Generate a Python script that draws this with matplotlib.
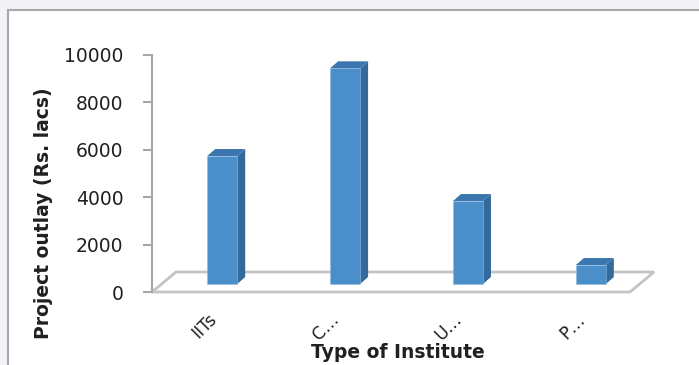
import matplotlib.pyplot as plt
from matplotlib.patches import Polygon, Rectangle
from matplotlib.transforms import offset_copy, IdentityTransform, ScaledTranslation

institutes = ["IITs", "C\u2026", "U\u2026", "P\u2026"]
outlay = [5400, 9100, 3500, 800]
yticks = [0, 2000, 4000, 6000, 8000, 10000]

W, H = 699, 365
fig = plt.figure(figsize=(W / 100, H / 100), dpi=100)
fig.patch.set_facecolor("#f3f3f7")

# white chart area with grey frame (behind the axes, runs off right/bottom)
fig.add_artist(Rectangle((8 / W, -0.2), 1.2, 1.2 - 10 / H, transform=fig.transFigure,
                         facecolor="white", edgecolor="#a8a8a8", lw=1.5, zorder=-5))

ax = fig.add_axes([152 / W, (H - 292) / H, (630 - 152) / W, (292 - 55) / H])
ax.patch.set_alpha(0)
ax.set_xlim(-0.49, 3.40)
ax.set_ylim(0, 10000)
for s in ["top", "right", "bottom"]:
    ax.spines[s].set_visible(False)
ax.spines["left"].set_color("#a6a6a6")
ax.spines["left"].set_linewidth(1.5)
ax.set_yticks(yticks)
ax.tick_params(axis="y", direction="out", length=6.5, width=1.5, color="#a6a6a6",
               labelsize=13.5, pad=14, labelcolor="#202020")
xs = list(range(len(institutes)))
ax.set_xticks(xs)
ax.set_xticklabels(institutes, rotation=45, ha="right", rotation_mode="anchor",
                   fontsize=12.5, color="#202020")
ax.tick_params(axis="x", length=0, pad=13)
shift = ScaledTranslation(-5 / 100, 0, fig.dpi_scale_trans)
for lbl in ax.get_xticklabels():
    lbl.set_transform(lbl.get_transform() + shift)

# floor (depth offset in pixels)
dx, dy = 24, 20
ident = IdentityTransform()
fl = ax.transData.transform((ax.get_xlim()[0], 0))
fr = ax.transData.transform((ax.get_xlim()[1], 0))
floor = Polygon([fl, fr, fr + (dx, dy), fl + (dx, dy)], closed=True,
                facecolor="white", edgecolor="#c4c4c4", lw=2, transform=ident,
                zorder=1, clip_on=False)
ax.add_artist(floor)

# bars at 0.4 of floor depth
bx, by = 10, 8
sx, sy = 8, 7
width = 0.244
front = "#4a8fca"
side = "#336a9b"
top = "#3b77ae"
tr = offset_copy(ax.transData, fig=fig, x=bx, y=by, units="dots")
ax.bar(xs, outlay, width=width, color=front, edgecolor="#8fb8de", lw=0.4,
       transform=tr, zorder=3, clip_on=False)
for x, v in zip(xs, outlay):
    rb = ax.transData.transform((x + width / 2, 0)) + (bx, by)
    lt = ax.transData.transform((x - width / 2, v)) + (bx, by)
    rt = ax.transData.transform((x + width / 2, v)) + (bx, by)
    ax.add_artist(Polygon([rb, rt, rt + (sx, sy), rb + (sx, sy)], closed=True,
                          facecolor=side, edgecolor="none", transform=ident,
                          zorder=2, clip_on=False))
    ax.add_artist(Polygon([lt, rt, rt + (sx, sy), lt + (sx, sy)], closed=True,
                          facecolor=top, edgecolor="none", transform=ident,
                          zorder=2, clip_on=False))

fig.text(44 / W, 1 - 213 / H, "Project outlay (Rs. lacs)", rotation=90,
         ha="center", va="center", fontsize=13.5, fontweight="bold", color="#202020")
fig.text(398 / W, 1 - 352 / H, "Type of Institute", ha="center", va="center",
         fontsize=13.5, fontweight="bold", color="#202020")

fig.savefig("out.png", dpi=100, facecolor=fig.get_facecolor())
